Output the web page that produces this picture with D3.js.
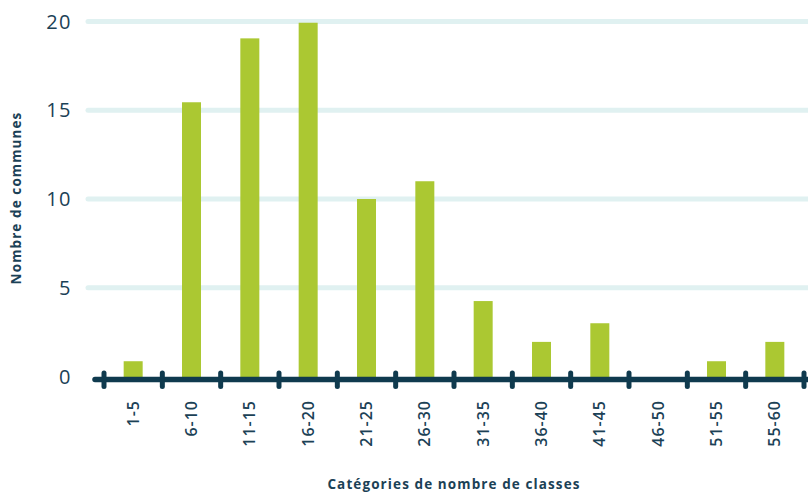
<!DOCTYPE html>
<meta charset="utf-8" />
<style>
  body { margin: 0; background: #fff; }
  text { font-family: "Open Sans", sans-serif; fill: #1b4156; }
  .grid line { stroke: #e0f1f1; stroke-width: 5px; stroke-linecap: round; }
  .ylabels text { font-size: 20px; font-weight: 500; letter-spacing: 1.5px; }
  .xlabels text { font-size: 16px; font-weight: 600; letter-spacing: 1px; }
  .title { font-size: 13.5px; font-weight: 700; letter-spacing: 1.1px; }
</style>
<svg width="808" height="493"></svg>
<script src="https://d3js.org/d3.v7.min.js"></script>
<script>
  var categories = ["1-5", "6-10", "11-15", "16-20", "21-25", "26-30", "31-35", "36-40", "41-45", "46-50", "51-55", "55-60"];
  var communes = [0.86, 15.45, 19.05, 19.93, 10, 11, 4.25, 1.95, 3, 0, 0.86, 1.95];
  var yTicks = [0, 5, 10, 15, 20];

  var svg = d3.select("svg");

  var x = d3.scaleBand().domain(categories).range([104, 804]).paddingInner(0).paddingOuter(0);
  var y = d3.scaleLinear().domain([0, 20]).range([376.5, 21.5]);

  // horizontal grid
  svg.append("g").attr("class", "grid")
    .selectAll("line")
    .data(yTicks.filter(function (d) { return d > 0; }))
    .enter().append("line")
    .attr("x1", 88).attr("x2", 812)
    .attr("y1", function (d) { return y(d); })
    .attr("y2", function (d) { return y(d); });

  svg.append("g").attr("class", "ylabels")
    .selectAll("text")
    .data(yTicks)
    .enter().append("text")
    .attr("x", 72)
    .attr("y", function (d) { return y(d); })
    .attr("dy", "0.35em")
    .attr("text-anchor", "end")
    .text(function (d) { return d; });

  // bars
  var bw = 19;
  svg.append("g")
    .selectAll("rect")
    .data(categories.filter(function (d, i) { return communes[i] > 0; }))
    .enter().append("rect")
    .attr("x", function (d) { return x(d) + x.bandwidth() / 2 - bw / 2; })
    .attr("y", function (d) { return y(communes[categories.indexOf(d)]); })
    .attr("width", bw)
    .attr("height", function (d) { return 379 - y(communes[categories.indexOf(d)]); })
    .attr("fill", "#abc832");

  // x axis line + ticks
  svg.append("line")
    .attr("x1", 95).attr("x2", 812)
    .attr("y1", 379.5).attr("y2", 379.5)
    .attr("stroke", "#0f3a4e").attr("stroke-width", 5.5).attr("stroke-linecap", "round");

  var bounds = categories.map(function (d) { return x(d); }).concat([x.range()[1]]);
  svg.append("g")
    .selectAll("line")
    .data(bounds)
    .enter().append("line")
    .attr("x1", function (d) { return d; }).attr("x2", function (d) { return d; })
    .attr("y1", 373).attr("y2", 386.5)
    .attr("stroke", "#0f3a4e").attr("stroke-width", 5).attr("stroke-linecap", "round");

  svg.append("g").attr("class", "xlabels")
    .selectAll("text")
    .data(categories)
    .enter().append("text")
    .attr("transform", function (d) {
      return "translate(" + (x(d) + x.bandwidth() / 2) + ",400) rotate(-90)";
    })
    .attr("dy", "0.35em")
    .attr("text-anchor", "end")
    .text(function (d) { return d; });

  svg.append("text").attr("class", "title")
    .attr("x", 454).attr("y", 489)
    .attr("text-anchor", "middle")
    .text("Catégories de nombre de classes");

  svg.append("text").attr("class", "title")
    .attr("transform", "translate(21,198) rotate(-90)")
    .attr("text-anchor", "middle")
    .text("Nombre de communes");
</script>
